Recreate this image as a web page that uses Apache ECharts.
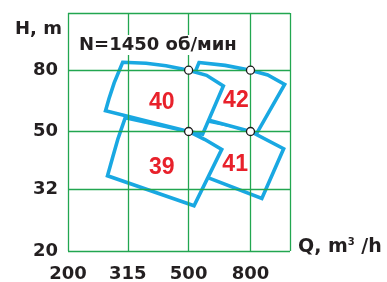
<!DOCTYPE html>
<html>
<head>
<meta charset="utf-8">
<script src="https://cdn.jsdelivr.net/npm/echarts@6/dist/echarts.min.js"></script>
<style>
html, body { margin: 0; padding: 0; background: #fff; }
#chart { width: 387px; height: 282px; }
</style>
</head>
<body>
<div id="chart"></div>
<script>
// шкалы (логарифмические)
var qTicks = [200, 315, 500, 800];
var hTicks = [20, 32, 50, 80];
var qMax = 1080;
var hMax = 124;

// контуры полей Q-H, точки [Q, H]
var field39 = [[309, 55.6], [500, 50], [566, 47], [643, 43.6], [521, 28.3], [270, 35.6], [281, 41.1], [292, 47.1]];
var field40 = [[303, 85], [362, 84.4], [421, 82.7], [500, 80], [573, 76.9], [651, 70.9], [556, 49], [500, 50], [266, 58.6], [273, 64.3], [284, 72.6]];
var field41 = [[547, 54.8], [694, 52.3], [800, 50], [1029, 43.8], [872, 29.9], [527, 36.4]];
var field42 = [[541, 84.8], [660, 83], [800, 80], [912, 77.1], [1037, 71.7], [840, 49.4], [800, 50], [464, 58.1]];

// порядок отрисовки: верхние поля перекрывают нижние
var fieldNames = ['41', '42', '39', '40'];
var fields = [field41, field42, field39, field40];
var labelPos = [[712, 38.9], [716, 63.5], [408, 37.8], [408, 62.4]];

// узловые точки
var nodes = [[500, 80], [800, 80], [500, 50], [800, 50]];

var lg = Math.log10;
var ink = '#231f20';
var gridColor = '#22a650';
var blue = '#19a8e2';

function nearest(arr, v) {
	var t = Math.pow(10, v), best = arr[0];
	arr.forEach(function(a) { if (Math.abs(a - t) < Math.abs(best - t)) best = a; });
	return String(best);
}

var chart = echarts.init(document.getElementById('chart'));
var option = {
	animation: false,
	grid: { left: 68, right: 97, top: 13, bottom: 31, outerBoundsMode: 'none' },
	xAxis: {
		type: 'value',
		min: lg(qTicks[0]),
		max: lg(qMax),
		z: 3,
		axisLine: { show: false },
		axisTick: { show: false, customValues: qTicks.map(lg).concat([lg(qMax)]) },
		axisLabel: {
			customValues: qTicks.map(lg),
			formatter: function(v) { return nearest(qTicks, v); },
			margin: 14,
			color: ink,
			fontSize: 18,
			fontWeight: 'bold',
			fontFamily: 'DejaVu Sans'
		},
		splitLine: { show: true, lineStyle: { color: gridColor, width: 1.3 } }
	},
	yAxis: {
		type: 'value',
		min: lg(hTicks[0]),
		max: lg(hMax),
		z: 3,
		axisLine: { show: false },
		axisTick: { show: false, customValues: hTicks.map(lg).concat([lg(hMax)]) },
		axisLabel: {
			customValues: hTicks.map(lg),
			formatter: function(v) { return nearest(hTicks, v); },
			margin: 10,
			color: ink,
			fontSize: 18,
			fontWeight: 'bold',
			fontFamily: 'DejaVu Sans'
		},
		splitLine: { show: true, lineStyle: { color: gridColor, width: 1.3 } }
	},
	series: [{
		type: 'custom',
		z: 1,
		data: fields.map(function(f, i) { return [i, 0]; }),
		renderItem: function(params, api) {
			var f = fields[params.dataIndex];
			var pts = f.map(function(p) { return api.coord([lg(p[0]), lg(p[1])]); });
			return {
				type: 'polygon',
				z2: params.dataIndex,
				shape: { points: pts },
				style: { fill: '#fff', stroke: blue, lineWidth: 3.6, lineJoin: 'miter' }
			};
		}
	}, {
		type: 'scatter',
		z: 5,
		symbol: 'circle',
		symbolSize: 8,
		itemStyle: { color: '#fff', borderColor: '#1a1a1a', borderWidth: 1.3, opacity: 1 },
		data: nodes.map(function(p) { return [lg(p[0]), lg(p[1])]; })
	}, {
		type: 'scatter',
		z: 6,
		symbolSize: 1,
		itemStyle: { color: 'rgba(0,0,0,0)', opacity: 1 },
		label: {
			show: true,
			position: 'inside',
			formatter: '{b}',
			color: '#e8212b',
			opacity: 1,
			textBorderWidth: 0,
			fontSize: 23,
			fontWeight: 'bold',
			fontFamily: 'Liberation Sans'
		},
		data: labelPos.map(function(p, i) { return { name: fieldNames[i], value: [lg(p[0]), lg(p[1])] }; })
	}],
	graphic: [{
		type: 'text',
		x: 15, y: 29, z: 50,
		style: { text: 'H, m', font: 'bold 18px "DejaVu Sans"', fill: ink, verticalAlign: 'middle' }
	}, {
		type: 'text',
		x: 77, y: 45, z: 50,
		style: {
			text: 'N=1450 об/мин', font: 'bold 18px "DejaVu Sans"', fill: ink,
			backgroundColor: '#fff', padding: [1, 2], verticalAlign: 'middle'
		}
	}, {
		type: 'text',
		x: 298, y: 247, z: 50,
		style: {
			text: '{a|Q, m}{s|3}{a| /h}',
			verticalAlign: 'middle',
			rich: {
				a: { font: 'bold 19px "DejaVu Sans"', fill: ink },
				s: { font: 'bold 10px "DejaVu Sans"', fill: ink, verticalAlign: 'top', lineHeight: 10 }
			}
		}
	}]
};
chart.setOption(option);
</script>
</body>
</html>
